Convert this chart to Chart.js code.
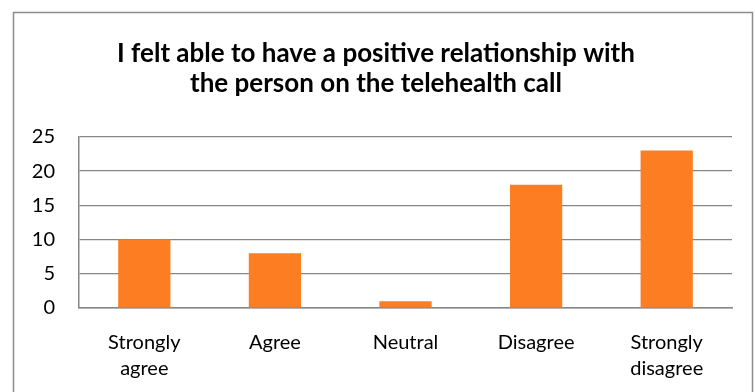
<!DOCTYPE html>
<html>
<head>
<meta charset="utf-8">
<script src="https://cdn.jsdelivr.net/npm/chart.js@4"></script>
<style>
    html, body { margin: 0; padding: 0; background: #fff; }
    #wrap { width: 755px; height: 392px; }
</style>
</head>
<body>
<div id="wrap"><canvas id="telehealth-chart" width="755" height="392"></canvas></div>
<script>
    "use strict";

    var categories = [["Strongly", "agree"], "Agree", "Neutral", "Disagree", ["Strongly", "disagree"]];
    var responses = [10, 8, 1, 18, 23];
    var yTicks = [0, 5, 10, 15, 20, 25];
    var titleLines = ["I felt able to have a positive relationship with", "the person on the telehealth call"];

    var gridGray = "#868686";
    var fontFamily = "Lato, 'Open Sans', sans-serif";

    // frame drawn around the whole chart area
    var chartFrame = {
        id: "chartFrame",
        beforeDraw: function (chart) {
            var ctx = chart.ctx;
            ctx.save();
            ctx.fillStyle = "#fff";
            ctx.fillRect(0, 0, chart.width, chart.height);
            ctx.strokeStyle = "#8c8c8c";
            ctx.lineWidth = 1.5;
            ctx.strokeRect(13.5, 12.5, 739, 400);
            ctx.restore();
        }
    };

    var ctx = document.getElementById("telehealth-chart").getContext("2d");
    new Chart(ctx, {
        type: "bar",
        data: {
            labels: categories,
            datasets: [{
                data: responses,
                backgroundColor: "#FC7D22",
                borderWidth: 0,
                barPercentage: 0.4,
                categoryPercentage: 1
            }]
        },
        options: {
            responsive: false,
            animation: false,
            layout: { padding: { left: 20, right: 23, top: 0, bottom: 0 } },
            plugins: {
                legend: { display: false },
                tooltip: { enabled: false },
                title: {
                    display: true,
                    text: titleLines,
                    color: "#000",
                    font: { family: fontFamily, size: 26, weight: "bold", lineHeight: 1.17 },
                    padding: { top: 38, bottom: 38 }
                }
            },
            scales: {
                x: {
                    grid: { display: false },
                    border: { display: true, color: gridGray, width: 1.5 },
                    ticks: {
                        color: "#000",
                        padding: 13,
                        maxRotation: 0,
                        font: { family: fontFamily, size: 20, lineHeight: 1.32 }
                    },
                    afterFit: function (scale) { scale.height = 84; }
                },
                y: {
                    min: 0,
                    max: 25,
                    afterBuildTicks: function (scale) {
                        scale.ticks = yTicks.map(function (v) { return { value: v }; });
                    },
                    grid: { color: gridGray, lineWidth: 1.2, drawTicks: false },
                    border: { display: true, color: gridGray, width: 1.5 },
                    ticks: {
                        color: "#000",
                        padding: 24,
                        font: { family: fontFamily, size: 20 }
                    },
                    afterFit: function (scale) { scale.width = 59; }
                }
            }
        },
        plugins: [chartFrame]
    });
</script>
</body>
</html>
